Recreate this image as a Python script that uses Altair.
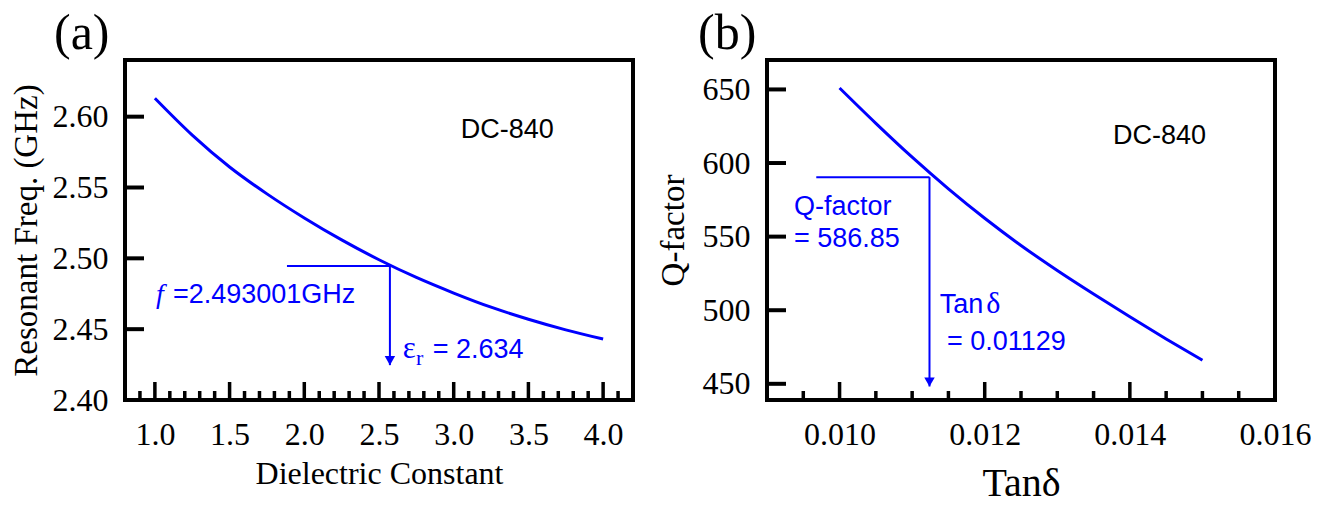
import altair as alt
import pandas as pd

# ---------------- Panel (a) data ----------------
eps_r = [1.0, 1.25, 1.5, 1.75, 2.0, 2.25, 2.5, 2.75, 3.0, 3.25, 3.5, 3.75, 4.0]
res_freq = [2.613, 2.587, 2.5645, 2.5455, 2.5285, 2.5130, 2.4990, 2.4865, 2.4755, 2.4655, 2.4570, 2.4495, 2.4430]
a_x_labels = [1.0, 1.5, 2.0, 2.5, 3.0, 3.5, 4.0]
a_x_minor = [0.9, 1.1, 1.2, 1.3, 1.4, 1.6, 1.7, 1.8, 1.9, 2.1, 2.2, 2.3, 2.4, 2.6, 2.7, 2.8,
             2.9, 3.1, 3.2, 3.3, 3.4, 3.6, 3.7, 3.8, 3.9, 4.1]
a_y_labels = [2.40, 2.45, 2.50, 2.55, 2.60]
a_y_ticks = [2.45, 2.50, 2.55, 2.60]
# annotation (a): horizontal guide, arrow
a_h_x = [1.884]
a_h_x2 = [2.573]
a_h_y = [2.4946]
a_arrow_x = [2.573]
a_arrow_y = [2.4946]
a_arrow_tip = [2.4246]

# ---------------- Panel (b) data ----------------
tan_d = [0.0100, 0.0105, 0.0110, 0.0115, 0.0120, 0.0125, 0.0130, 0.0135, 0.0140, 0.0145, 0.0150]
q_factor = [651, 627, 604, 582.5, 562.5, 544, 527, 511, 495.5, 480.5, 466]
b_x_labels = [0.010, 0.012, 0.014, 0.016]
b_x_major = [0.010, 0.012, 0.014]
b_x_minor = [0.0095, 0.0105, 0.0110, 0.0115, 0.0125, 0.0130, 0.0135, 0.0145, 0.0150, 0.0155]
b_y_labels = [450, 500, 550, 600, 650]
b_h_x = [0.009679]
b_h_x2 = [0.011239]
b_h_y = [590.4]
b_arrow_x = [0.011239]
b_arrow_y = [590.4]
b_arrow_tip = [448.2]

SERIF = "Liberation Serif"
SANS = "Liberation Sans"
BLUE = "#0000ff"
W, H = 508, 340


def text_layer(texts, xs, ys, xscale, yscale, font, size, color, style="normal"):
    df = pd.DataFrame({"t": texts, "x": xs, "y": ys})
    return alt.Chart(df).mark_text(align="left", baseline="alphabetic", font=font,
                                   fontSize=size, color=color, fontStyle=style).encode(
        x=alt.X("x:Q", scale=xscale), y=alt.Y("y:Q", scale=yscale), text="t:N")


def panel(xs, ys, xdom, ydom, xlabels, ylabels, xfmt, yfmt, xtitle, ytitle, xtitle_size,
          xtitle_y, ytitle_x, x_major, x_minor, y_ticks, hline, arrow, texts, title, title_dx):
    xscale = alt.Scale(domain=xdom, nice=False, zero=False)
    yscale = alt.Scale(domain=ydom, nice=False, zero=False)
    xaxis = alt.Axis(values=xlabels, format=xfmt, ticks=False, tickSize=0, domain=False, grid=False,
                     labelFont=SERIF, labelFontSize=32, labelColor="black", labelPadding=19,
                     labelFlush=False, labelOverlap=False,
                     title=xtitle, titleFont=SERIF, titleFontSize=xtitle_size, titleFontWeight="normal",
                     titleColor="black", titleBaseline="alphabetic", titleY=xtitle_y)
    yaxis = alt.Axis(values=ylabels, format=yfmt, ticks=False, tickSize=0, domain=False, grid=False,
                     labelFont=SERIF, labelFontSize=32, labelColor="black", labelPadding=17,
                     labelFlush=False, labelOverlap=False,
                     title=ytitle, titleFont=SERIF, titleFontSize=33, titleFontWeight="normal",
                     titleColor="black", titleBaseline="alphabetic", titleAngle=-90,
                     titleX=ytitle_x, titleY=H / 2)
    base = pd.DataFrame({"x": xs, "y": ys})
    curve = alt.Chart(base).mark_line(color=BLUE, strokeWidth=3, interpolate="monotone").encode(
        x=alt.X("x:Q", scale=xscale, axis=xaxis), y=alt.Y("y:Q", scale=yscale, axis=yaxis))

    maj = alt.Chart(pd.DataFrame({"v": x_major})).mark_rule(color="black", strokeWidth=3.5).encode(
        x=alt.X("v:Q", scale=xscale), y=alt.value(H), y2=alt.value(H - 18))
    mnr = alt.Chart(pd.DataFrame({"v": x_minor})).mark_rule(color="black", strokeWidth=3.5).encode(
        x=alt.X("v:Q", scale=xscale), y=alt.value(H), y2=alt.value(H - 9))
    yt = alt.Chart(pd.DataFrame({"v": y_ticks})).mark_rule(color="black", strokeWidth=4).encode(
        y=alt.Y("v:Q", scale=yscale), x=alt.value(0), x2=alt.value(19))

    hx, hx2, hy = hline
    hl = alt.Chart(pd.DataFrame({"x": hx, "x2": hx2, "y": hy})).mark_rule(color=BLUE, strokeWidth=2).encode(
        x=alt.X("x:Q", scale=xscale), x2="x2:Q", y=alt.Y("y:Q", scale=yscale))
    ax, ay, atip = arrow
    vl = alt.Chart(pd.DataFrame({"x": ax, "y": ay, "y2": atip})).mark_rule(color=BLUE, strokeWidth=2).encode(
        x=alt.X("x:Q", scale=xscale), y=alt.Y("y:Q", scale=yscale), y2="y2:Q")
    head = alt.Chart(pd.DataFrame({"x": ax, "y": atip})).mark_point(
        shape="triangle-down", filled=True, size=110, color=BLUE, opacity=1, yOffset=-4.5).encode(
        x=alt.X("x:Q", scale=xscale), y=alt.Y("y:Q", scale=yscale))

    lab = alt.Chart(pd.DataFrame({"t": [title]})).mark_text(
        align="left", baseline="alphabetic", font=SERIF, fontSize=50, color="black").encode(
        x=alt.value(title_dx), y=alt.value(-11), text="t:N")

    layers = [curve, maj, mnr, yt, hl, vl, head, lab]
    for t in texts:
        layers.append(text_layer(*t[:3], xscale, yscale, *t[3:]))
    return alt.layer(*layers).properties(width=W, height=H)


texts_a = [
    (["f"], [1.0075], [2.4683], SERIF, 28, BLUE, "italic"),
    (["=2.493001GHz"], [1.121], [2.4683], SANS, 27, BLUE),
    (["\u03b5"], [2.6587], [2.4294], SERIF, 31, BLUE),
    (["r"], [2.7477], [2.4247], SERIF, 22, BLUE),
    (["= 2.634"], [2.8594], [2.4294], SANS, 27, BLUE),
    (["DC-840"], [3.0475], [2.5848], SANS, 27, "black"),
]
texts_b = [
    (["Q-factor"], [0.009372], [564.6], SANS, 27, BLUE),
    (["= 586.85"], [0.009372], [543.1], SANS, 27, BLUE),
    (["Tan"], [0.011380], [498.1], SANS, 27, BLUE),
    (["\u03b4"], [0.012020], [498.1], SERIF, 30, BLUE),
    (["= 0.01129"], [0.011480], [473.1], SANS, 27, BLUE),
    (["DC-840"], [0.013768], [613.2], SANS, 27, "black"),
]

pa = panel(eps_r, res_freq, [0.8, 4.2], [2.40, 2.64], a_x_labels, a_y_labels, ".1f", ".2f",
           "Dielectric Constant", "Resonant Freq. (GHz)", 32, 83, -89,
           a_x_labels, a_x_minor, a_y_ticks,
           (a_h_x, a_h_x2, a_h_y), (a_arrow_x, a_arrow_y, a_arrow_tip), texts_a, "(a)", -71)
pb = panel(tan_d, q_factor, [0.009, 0.016], [439, 670], b_x_labels, b_y_labels, ".3f", "d",
           "Tan\u03b4", "Q-factor", 40, 95, -84,
           b_x_major, b_x_minor, b_y_labels,
           (b_h_x, b_h_x2, b_h_y), (b_arrow_x, b_arrow_y, b_arrow_tip), texts_b, "(b)", -69)

chart = alt.hconcat(pa, pb, spacing=20).properties(
    padding={"left": 7, "top": 7, "right": 5, "bottom": 0}
).configure(background="white").configure_view(stroke="black", strokeWidth=4)

chart.save("out.html", embed_options={"renderer": "svg", "actions": False})
